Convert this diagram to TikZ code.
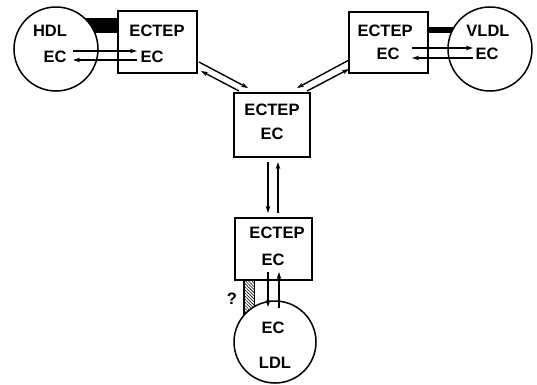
\documentclass[tikz,border=0pt]{standalone}
\usepackage{fontspec}
\setmainfont{Liberation Sans}
\usetikzlibrary{arrows.meta,patterns.meta}
\begin{document}
\begin{tikzpicture}[x=1pt,y=-1pt,
  ln/.style={line width=1.4pt},
  arr/.style={ln,-{Stealth[length=7pt,width=4.5pt]}},
  lbl/.style={font=\fontsize{16.5}{16.5}\selectfont\bfseries,inner sep=0pt},
  boxn/.style={draw,line width=1.5pt,fill=white,inner sep=0pt},
  circn/.style={draw,circle,line width=1.5pt,fill=white,inner sep=0pt}]
\useasboundingbox (0,0) rectangle (537,384);
% bars (drawn first, circles cover their ends)
\fill (60,18) rectangle (118,33);
\fill (427,27) rectangle (470,33);
\path[pattern={Lines[angle=-45,distance=2.2pt,line width=0.6pt]}] (244,279) rectangle (254,322);
\draw[line width=1.4pt] (244,279) -- (244,322);
\draw[line width=0.6pt] (254,279) -- (254,322);
% boxes
\node[boxn,minimum width=79pt,minimum height=62pt] (b1) at (157.5,42) {};
\node[boxn,minimum width=79pt,minimum height=61pt] (b2) at (388.5,42.5) {};
\node[boxn,minimum width=76pt,minimum height=64pt] (b3) at (272,125) {};
\node[boxn,minimum width=77pt,minimum height=62pt] (b4) at (273.5,249) {};
% circles
\node[circn,minimum size=84pt] (c1) at (56,49) {};
\node[circn,minimum size=84pt] (c2) at (490,49) {};
\node[circn,minimum size=82pt] (c3) at (275,342) {};
% labels
\node[lbl] (hdl) at (50,31) {HDL};
\node[lbl] (hec) at (55,57) {EC};
\node[lbl] (t1) at (157,31) {ECTEP};
\node[lbl] (e1) at (152,57) {EC};
\node[lbl] (vldl) at (488,31) {VLDL};
\node[lbl] (vec) at (487,54) {EC};
\node[lbl] (t2) at (385,31) {ECTEP};
\node[lbl] (e2) at (388,54) {EC};
\node[lbl] (t3) at (272,110) {ECTEP};
\node[lbl] (e3) at (272,134) {EC};
\node[lbl] (t4) at (277,233) {ECTEP};
\node[lbl] (e4) at (273,260) {EC};
\node[lbl] (lec) at (273,328) {EC};
\node[lbl] (ldl) at (275,363) {LDL};
\node[lbl] (q) at (232,299) {?};
% coordinates for connectors
\coordinate (h1a) at (73,51);  \coordinate (h1b) at (137,51);
\coordinate (h2a) at (137,60); \coordinate (h2b) at (73,60);
\coordinate (v1a) at (412,48); \coordinate (v1b) at (473,48);
\coordinate (v2a) at (473,58); \coordinate (v2b) at (412,58);
\coordinate (la1) at (199,62); \coordinate (la2) at (248,88);
\coordinate (lb1) at (239,91); \coordinate (lb2) at (201,71);
\coordinate (rc1) at (349,60); \coordinate (rc2) at (297,88);
\coordinate (rd1) at (307,91); \coordinate (rd2) at (349,69);
\coordinate (ma1) at (268,162); \coordinate (ma2) at (268,213);
\coordinate (mb1) at (278,213); \coordinate (mb2) at (278,162);
\coordinate (da1) at (268,272); \coordinate (da2) at (268,307);
\coordinate (db1) at (279,308); \coordinate (db2) at (279,272);
% connectors
\draw[arr] (h1a) -- (h1b);
\draw[arr] (h2a) -- (h2b);
\draw[arr] (v1a) -- (v1b);
\draw[arr] (v2a) -- (v2b);
\draw[arr] (la1) -- (la2);
\draw[arr] (lb1) -- (lb2);
\draw[arr] (rc1) -- (rc2);
\draw[arr] (rd1) -- (rd2);
\draw[arr] (ma1) -- (ma2);
\draw[arr] (mb1) -- (mb2);
\draw[arr] (da1) -- (da2);
\draw[arr] (db1) -- (db2);
\end{tikzpicture}
\end{document}
